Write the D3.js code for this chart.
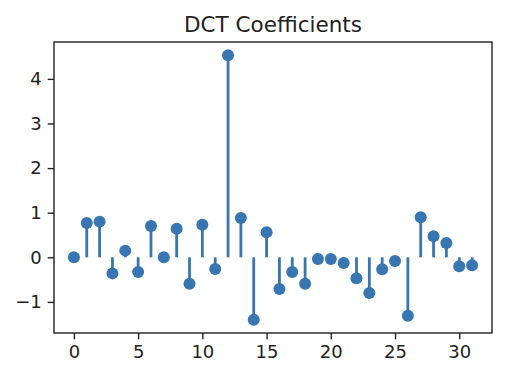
<!DOCTYPE html>
<html><head><meta charset="utf-8">
<script src="https://cdn.jsdelivr.net/npm/d3@7"></script>
<style>body{margin:0;background:#fff}svg{display:block}</style>
</head><body>
<script>
const indices = d3.range(32);
const coefficients = [0.00, 0.77, 0.80, -0.36, 0.15, -0.33, 0.70, 0.00, 0.64, -0.59,
  0.73, -0.26, 4.53, 0.88, -1.40, 0.56, -0.71, -0.33, -0.59, -0.04,
  -0.04, -0.13, -0.47, -0.80, -0.27, -0.08, -1.31, 0.90, 0.47, 0.32,
  -0.20, -0.18];
const xTicks = [0, 5, 10, 15, 20, 25, 30];
const yTicks = [-1, 0, 1, 2, 3, 4];
const title = "DCT Coefficients";

const W = 510, H = 368;
const m = {left: 54, right: 18, top: 42, bottom: 35};
const color = "#3776b1";
const svg = d3.select("body").append("svg").attr("width", W).attr("height", H);

const x = d3.scaleLinear().domain([-1.55, 32.55]).range([m.left, W - m.right]);
const ymin = d3.min(coefficients), ymax = d3.max(coefficients), sp = ymax - ymin;
const y = d3.scaleLinear().domain([ymin - 0.05 * sp, ymax + 0.05 * sp]).range([H - m.bottom, m.top]);

const font = "DejaVu Sans, sans-serif";
const fmt = d => d < 0 ? "\u2212" + Math.abs(d) : String(d);

const gx = svg.append("g").attr("transform", `translate(0,${H - m.bottom})`)
  .call(d3.axisBottom(x).tickValues(xTicks).tickFormat(fmt).tickSize(6.3).tickPadding(6));
const gy = svg.append("g").attr("transform", `translate(${m.left},0)`)
  .call(d3.axisLeft(y).tickValues(yTicks).tickFormat(fmt).tickSize(6.3).tickPadding(6));
[gx, gy].forEach(g => {
  g.select(".domain").remove();
  g.selectAll(".tick line").attr("stroke", "#222").attr("stroke-width", 1.4);
  g.selectAll(".tick text").attr("fill", "#222").style("font-family", font).style("font-size", "18px");
});

// stems
svg.append("g").selectAll("line").data(indices).join("line")
  .attr("x1", i => x(i)).attr("x2", i => x(i))
  .attr("y1", y(0)).attr("y2", i => y(coefficients[i]))
  .attr("stroke", color).attr("stroke-width", 2.8);
// markers
svg.append("g").selectAll("circle").data(indices).join("circle")
  .attr("cx", i => x(i)).attr("cy", i => y(coefficients[i]))
  .attr("r", 6).attr("fill", color);

// frame
svg.append("rect").attr("x", m.left).attr("y", m.top)
  .attr("width", W - m.left - m.right).attr("height", H - m.top - m.bottom)
  .attr("fill", "none").attr("stroke", "#222").attr("stroke-width", 1.4);

svg.append("text").attr("x", (m.left + W - m.right) / 2).attr("y", 32)
  .attr("text-anchor", "middle").style("font-family", font).style("font-size", "21.5px")
  .attr("fill", "#222").text(title);
</script>
</body></html>
